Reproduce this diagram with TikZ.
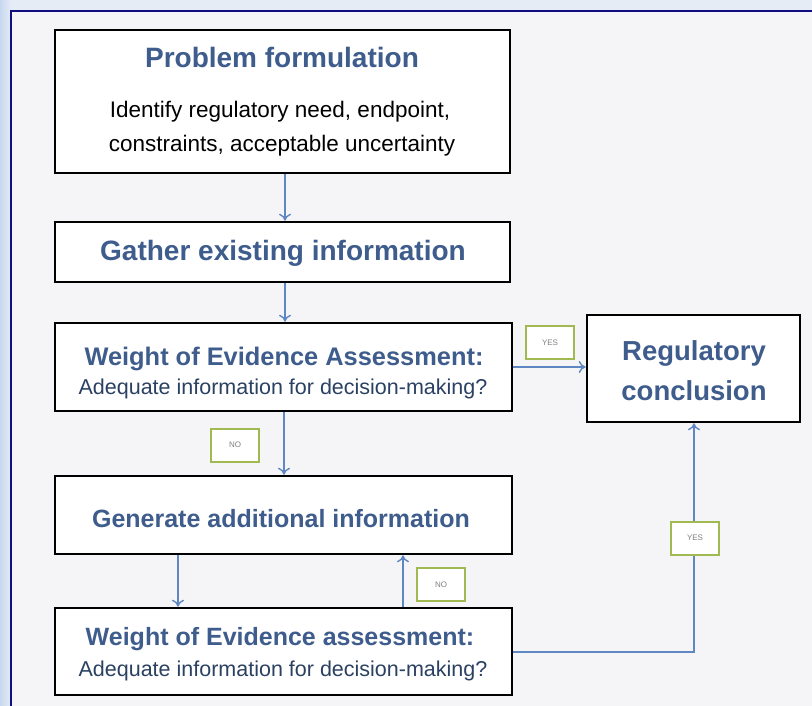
\documentclass[tikz,border=0pt]{standalone}
\usepackage{fontspec}
\setmainfont{Liberation Sans}
\usetikzlibrary{arrows.meta}
\definecolor{bgc}{RGB}{245,245,247}
\definecolor{edgec}{RGB}{230,236,246}
\definecolor{edgeb}{RGB}{200,215,240}
\definecolor{navy}{RGB}{15,15,130}
\definecolor{titlec}{RGB}{62,92,140}
\definecolor{arrc}{RGB}{95,135,195}
\definecolor{lblc}{RGB}{160,185,80}
\tikzset{
  x=1pt, y=-1pt,
  mainbox/.style={draw=black, line width=2.6pt, fill=white, inner sep=0pt, anchor=center},
  ttl/.style={anchor=base, text=titlec, font=\bfseries\fontsize{#1}{#1}\selectfont, inner sep=0pt},
  sub/.style={anchor=base, text=black, font=\fontsize{#1}{#1}\selectfont, inner sep=0pt},
  subb/.style={anchor=base, text=titlec!70!black, font=\fontsize{#1}{#1}\selectfont, inner sep=0pt},
  lbl/.style={draw=lblc, line width=2pt, fill=white, minimum width=48pt, minimum height=33pt, inner sep=0pt, text=gray, font=\fontsize{8}{8}\selectfont},
  arr/.style={draw=arrc, line width=1.4pt, -{To[length=7pt,width=12pt]}},
}
\begin{document}
\begin{tikzpicture}
\useasboundingbox (0,0) rectangle (812,706);
\fill[edgec] (0,0) rectangle (812,706);
\shade[left color=edgeb, right color=edgec] (0,0) rectangle (11,706);
\fill[bgc] (11,11) rectangle (812,706);
\draw[navy, line width=2pt] (11,706) -- (11,11) -- (812,11);

% boxes
\node[mainbox, minimum width=455pt, minimum height=143pt] (b1) at (282.5,101.5) {};
\node[mainbox, minimum width=455pt, minimum height=60pt] (b2) at (282.5,252) {};
\node[mainbox, minimum width=457pt, minimum height=88pt] (b3) at (283.5,367) {};
\node[mainbox, minimum width=213pt, minimum height=107pt] (reg) at (693.5,368.5) {};
\node[mainbox, minimum width=457pt, minimum height=78pt] (b5) at (283.5,515) {};
\node[mainbox, minimum width=457pt, minimum height=87pt] (b6) at (283.5,651.5) {};

% texts
\node[ttl=28] (t1) at (282,68) {Problem formulation};
\node[sub=22.5] (t1a) at (280,118) {Identify regulatory need, endpoint,};
\node[sub=22.5] (t1b) at (282,152) {constraints, acceptable uncertainty};
\node[ttl=28] (t2) at (283,260) {Gather existing information};
\node[ttl=25.4] (t3) at (284,365) {Weight of Evidence Assessment:};
\node[subb=21.5] (t3a) at (283,394) {Adequate information for decision-making?};
\node[ttl=27.5] (t4a) at (694,360) {Regulatory};
\node[ttl=27.5] (t4b) at (694,400) {conclusion};
\node[ttl=25] (t5) at (281,527) {Generate additional information};
\node[ttl=25] (t6) at (280,645) {Weight of Evidence assessment:};
\node[subb=21.5] (t6a) at (283,676) {Adequate information for decision-making?};

% connectors
\draw[arr] (b1.south -| 285,0) -- (b2.north -| 285,0);
\draw[arr] (b2.south -| 285,0) -- (b3.north -| 285,0);
\draw[arr] (b3.east |- 0,367) -- (reg.west |- 0,367);
\draw[arr] (b3.south -| 284,0) -- (b5.north -| 284,0);
\draw[arr] (b5.south -| 178,0) -- (b6.north -| 178,0);
\draw[arr] (b6.north -| 403,0) -- (b5.south -| 403,0);
\coordinate (corner) at (694,652);
\draw[arr] (b6.east |- corner) -- (corner) -- (reg.south -| corner);

% labels
\node[lbl] (yes1) at (550,342.5) {YES};
\node[lbl] (no1) at (235,445) {NO};
\node[lbl] (no2) at (441,584.5) {NO};
\node[lbl] (yes2) at (695,538) {YES};
\end{tikzpicture}
\end{document}
